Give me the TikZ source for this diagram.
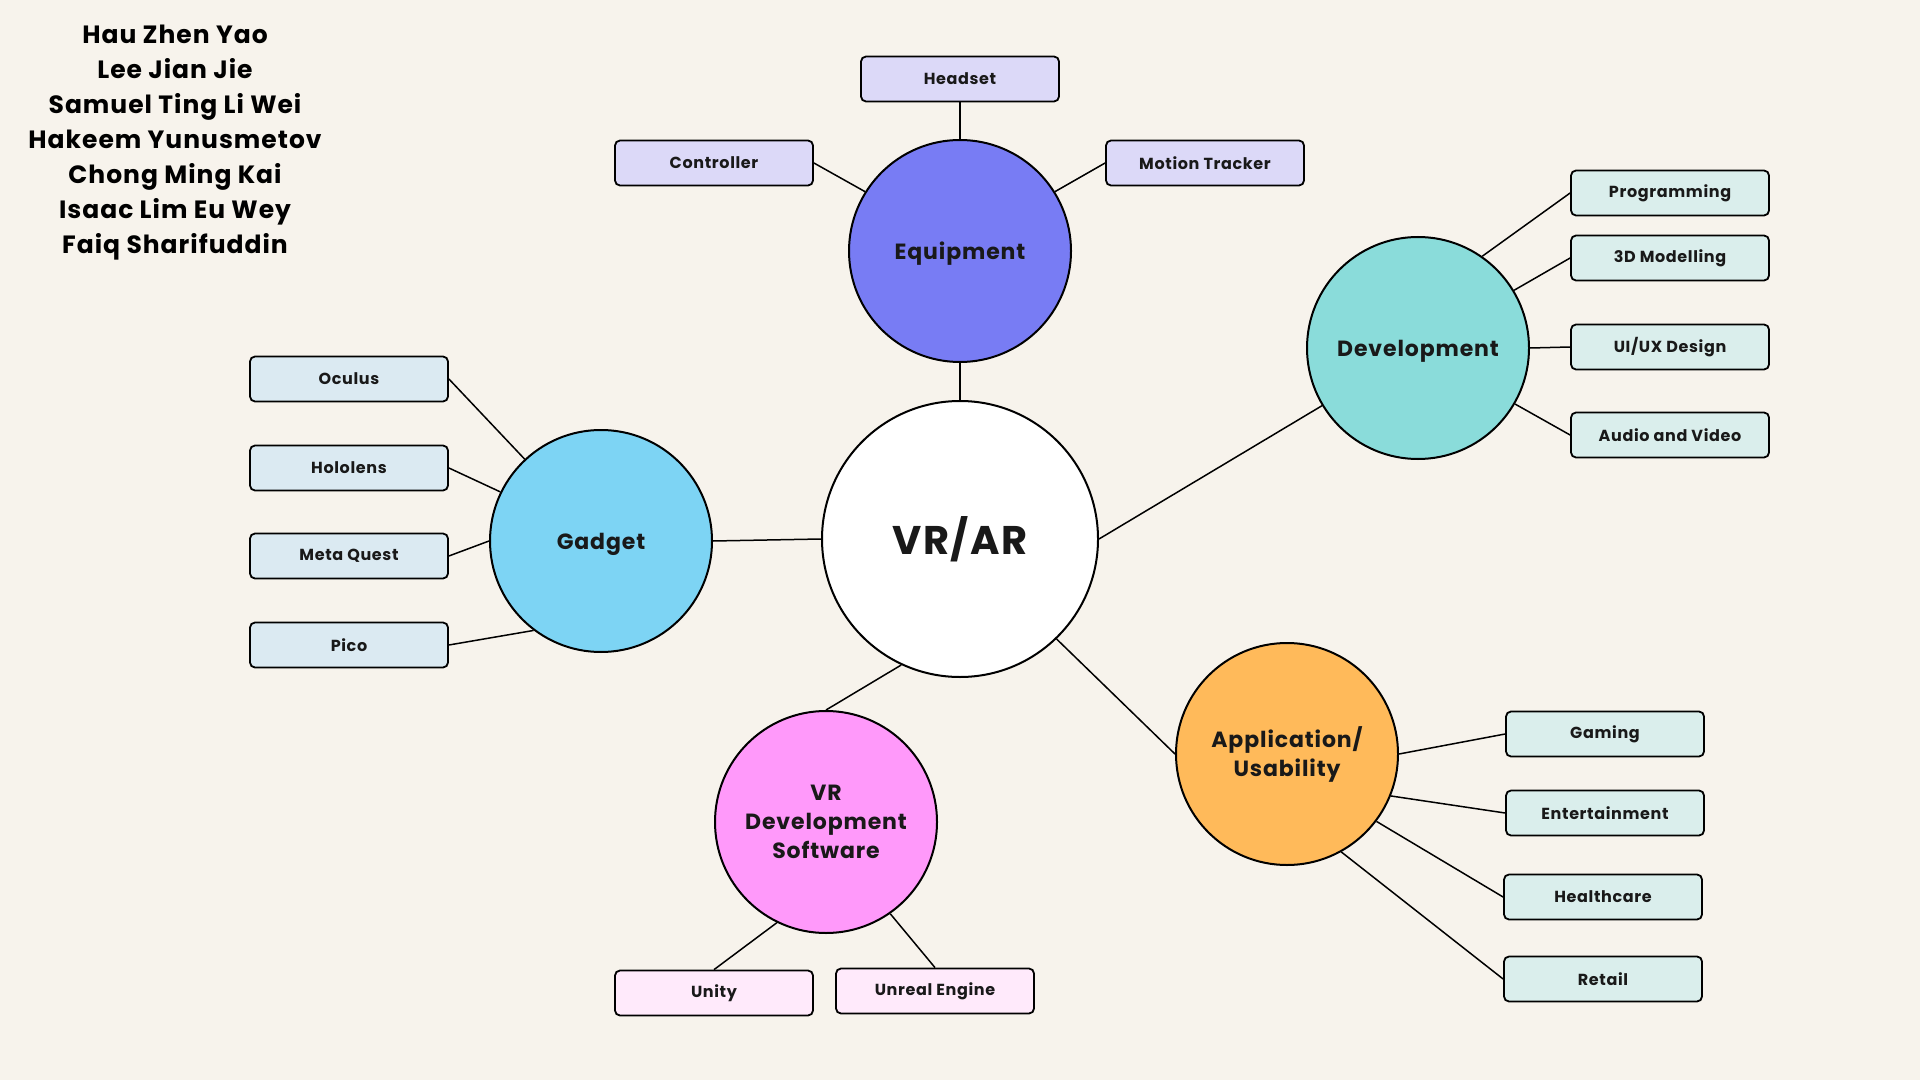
\documentclass[tikz,border=0pt]{standalone}
\usepackage{fontspec}
\setmainfont{Poppins}
\newfontfamily\spacedfont{Poppins}[LetterSpace=4]
\usetikzlibrary{calc}

\definecolor{bg}{HTML}{F7F3EC}
\definecolor{equipC}{HTML}{787CF4}
\definecolor{devC}{HTML}{8ADCDA}
\definecolor{gadC}{HTML}{7DD4F4}
\definecolor{softC}{HTML}{FF99FA}
\definecolor{appC}{HTML}{FFBA5A}
\definecolor{equipBox}{HTML}{DCD9F8}
\definecolor{gadBox}{HTML}{DBEAF2}
\definecolor{tealBox}{HTML}{DAEEEC}
\definecolor{pinkBox}{HTML}{FFEAFB}

\tikzset{
  hub/.style={circle, draw=black, line width=1pt, minimum size=111pt, inner sep=0pt,
              font=\spacedfont\bfseries\fontsize{11}{14.5}\selectfont, align=center, text=black!90},
  onehub/.style={hub, text depth=0pt},
  leaf/.style={rectangle, rounded corners=2.5pt, draw=black, line width=0.9pt,
               minimum width=99pt, minimum height=22.5pt, inner sep=0pt,
               font=\spacedfont\bfseries\fontsize{8}{10}\selectfont, text=black!90},
  link/.style={draw=black, line width=0.75pt}
}

\begin{document}
\begin{tikzpicture}[x=0.5pt, y=-0.5pt]
  \fill[bg] (0,0) rectangle (1920,1080);
  \useasboundingbox (0,0) rectangle (1920,1080);

  % author list
  \node[font=\spacedfont\bfseries\fontsize{12.5}{17.5}\selectfont, align=center]
    (names) at (175,143) {Hau Zhen Yao\\Lee Jian Jie\\Samuel Ting Li Wei\\Hakeem Yunusmetov\\Chong Ming Kai\\Isaac Lim Eu Wey\\Faiq Sharifuddin};

  % central topic
  \node[hub, fill=white, minimum size=138pt, font=\spacedfont\bfseries\fontsize{20}{24}\selectfont] (vrar) at (960,539) {VR/AR};

  % main branches
  \node[onehub, fill=equipC] (equip) at (960,251) {Equipment};
  \node[onehub, fill=devC] (dev) at (1418,348) {Development};
  \node[onehub, fill=gadC] (gad) at (601,541) {Gadget};
  \node[hub, fill=softC] (soft) at (826,822) {VR\\Development\\Software};
  \node[hub, fill=appC] (app) at (1287,754) {Application/\\Usability};

  % equipment leaves
  \node[leaf, fill=equipBox] (headset) at (960,79) {Headset};
  \node[leaf, fill=equipBox] (controller) at (714,163) {Controller};
  \node[leaf, fill=equipBox] (tracker) at (1205,163) {Motion Tracker};

  % development leaves
  \node[leaf, fill=tealBox] (prog) at (1670,193) {Programming};
  \node[leaf, fill=tealBox] (model) at (1670,258) {3D Modelling};
  \node[leaf, fill=tealBox] (uiux) at (1670,347) {UI/UX Design};
  \node[leaf, fill=tealBox] (av) at (1670,435) {Audio and Video};

  % gadget leaves
  \node[leaf, fill=gadBox] (oculus) at (349,379) {Oculus};
  \node[leaf, fill=gadBox] (hololens) at (349,468) {Hololens};
  \node[leaf, fill=gadBox] (quest) at (349,556) {Meta Quest};
  \node[leaf, fill=gadBox] (pico) at (349,645) {Pico};

  % software leaves
  \node[leaf, fill=pinkBox] (unity) at (714,993) {Unity};
  \node[leaf, fill=pinkBox] (unreal) at (935,991) {Unreal Engine};

  % application leaves
  \node[leaf, fill=tealBox] (gaming) at (1605,734) {Gaming};
  \node[leaf, fill=tealBox] (ent) at (1605,813) {Entertainment};
  \node[leaf, fill=tealBox] (health) at (1603,897) {Healthcare};
  \node[leaf, fill=tealBox] (retail) at (1603,979) {Retail};

  % hub connections
  \draw[link] (vrar.north) -- (equip.south);
  \draw[link] (vrar.east) -- (dev.211);
  \draw[link] (vrar.west) -- (gad.east);
  \draw[link] (vrar.245) -- (soft.north);
  \draw[link] (vrar.-46) -- (app.west);

  % equipment
  \draw[link] (headset.south) -- (equip.north);
  \draw[link] (controller.east) -- (equip.148);
  \draw[link] (tracker.west) -- (equip.32);

  % development
  \draw[link] (prog.west) -- (dev.55);
  \draw[link] (model.west) -- (dev.31);
  \draw[link] (uiux.west) -- (dev.east);
  \draw[link] (av.west) -- (dev.-30);

  % gadget
  \draw[link] (oculus.east) -- (gad.133);
  \draw[link] (hololens.east) -- (gad.154);
  \draw[link] (quest.east) -- (gad.west);
  \draw[link] (pico.east) -- (gad.233);

  % software
  \draw[link] (unity.north) -- (soft.244);
  \draw[link] (unreal.north) -- (soft.305);

  % application
  \draw[link] (gaming.west) -- (app.east);
  \draw[link] (ent.west) -- (app.-22);
  \draw[link] (health.west) -- (app.-37);
  \draw[link] (retail.west) -- (app.-61);
\end{tikzpicture}
\end{document}
